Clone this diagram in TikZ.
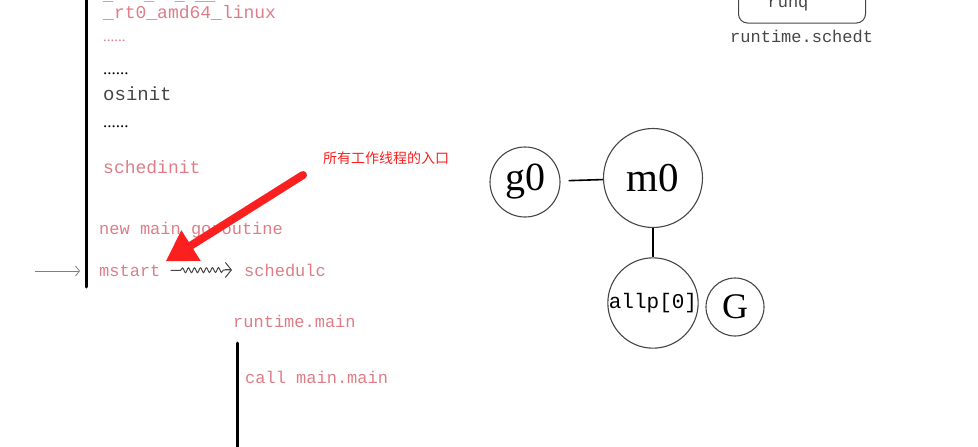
\documentclass[tikz,border=0pt]{standalone}
\usepackage{fontspec}
\setmainfont{Liberation Serif}
\newfontfamily\codefont{Liberation Mono}
\newfontfamily\cjkfont{Noto Sans CJK SC}
\usetikzlibrary{arrows.meta,decorations.pathmorphing,calc}
\definecolor{codepink}{RGB}{222,125,135}
\definecolor{notered}{RGB}{250,32,32}
\definecolor{inkgray}{RGB}{70,70,70}

\begin{document}
\begin{tikzpicture}[x=1pt, y=-1pt]
    \tikzset{
        code/.style={anchor=base west, inner sep=0pt, text=codepink, font=\codefont\fontsize{17}{17}\selectfont},
        plain/.style={code, text=inkgray},
        dots/.style={anchor=base west, inner sep=0pt, font=\fontsize{17}{17}\selectfont},
        bar/.style={line width=3pt, line cap=round},
        proc/.style={circle, draw=inkgray, line width=1.1pt, inner sep=0pt},
    }
    \useasboundingbox (0,0) rectangle (978,447);

    % call chain on the left
    \draw[bar] (86,-5) -- (86,287);
    \draw[bar] (237,343) -- (237,452);

    \node[code] (prev)  at (103,0)   {\_\hphantom{xxx}\_\hphantom{xx}\_\hphantom{x}\_\_};
    \node[code, font=\codefont\fontsize{18}{18}\selectfont] (rt0) at (103,18) {\_rt0\_amd64\_linux};
    \node[dots, text=codepink, font=\fontsize{15}{15}\selectfont] (dotsa) at (103,41) {......};
    \node[dots] (dotsb) at (103,74) {......};
    \node[plain, font=\codefont\fontsize{19}{19}\selectfont] (osinit) at (103,100) {osinit};
    \node[dots] (dotsc) at (103,127) {......};
    \node[code, font=\codefont\fontsize{18}{18}\selectfont] (schedinit) at (103,173) {schedinit};
    \node[code] (newg)     at (99,234)  {new main goroutine};
    \node[code] (mstart)   at (99,276)  {mstart};
    \node[code] (schedule) at (244,276) {schedulc};
    \node[code] (rtmain)   at (233,327) {runtime.main};
    \node[code] (mainmain) at (245,383) {call main.main};

    \coordinate (entry) at (35,271);
    \draw[gray, line width=0.8pt, -{Straight Barb[length=4pt,width=10pt]}, shorten >=19pt] (entry) -- (entry -| mstart.west);
    \draw[inkgray, line width=1pt, decorate, decoration={snake, amplitude=2.4pt, segment length=6pt, pre length=10pt, post length=6pt}] ($(mstart.east)+(10,0)$) -- ($(schedule.west)+(-13,0)$);
    \draw[inkgray, line width=1pt, -{Straight Barb[length=6pt,width=15pt]}] ($(schedule.west)+(-19,0)$) -- ($(schedule.west)+(-12,0)$);

    % note and red pointer
    \node[anchor=base west, inner sep=0pt, text=notered, font=\cjkfont\fontsize{14}{14}\selectfont] (note) at (323,163) {所有工作线程的入口};
    \coordinate (tail) at (303,175);
    \draw[notered, line width=8pt, line cap=round, -{Triangle[length=30pt,width=34pt]}] (tail) -- ([shift={(5,-3)}]mstart.north east);

    % scheduler structures
    \node[draw=inkgray, line width=1pt, rounded corners=9pt, minimum width=127pt, minimum height=56pt] (runq) at (802,-5) {};
    \node[anchor=base, inner sep=0pt, text=inkgray, font=\codefont\fontsize{17}{17}\selectfont] (runqtxt) at (788,7) {runq};
    \node[anchor=base west, inner sep=0pt, text=inkgray, font=\codefont\fontsize{17}{17}\selectfont] (schedt) at (730,42) {runtime.schedt};

    \node[proc, minimum size=70pt, font=\fontsize{40}{40}\selectfont] (g0)   at (525,182) {g0};
    \node[proc, minimum size=99pt, font=\fontsize{41}{41}\selectfont] (m0)   at (653,178) {m0};
    \node[proc, minimum size=90pt, font=\codefont\fontsize{21}{21}\selectfont] (allp) at (653,303) {allp[0]};
    \node[proc, minimum size=58pt, font=\fontsize{36}{36}\selectfont] (G)    at (735,307) {G};

    \draw[line width=1.6pt, shorten <=8pt] (g0) -- (m0);
    \draw[line width=1.6pt] (m0) -- (allp);
\end{tikzpicture}
\end{document}
